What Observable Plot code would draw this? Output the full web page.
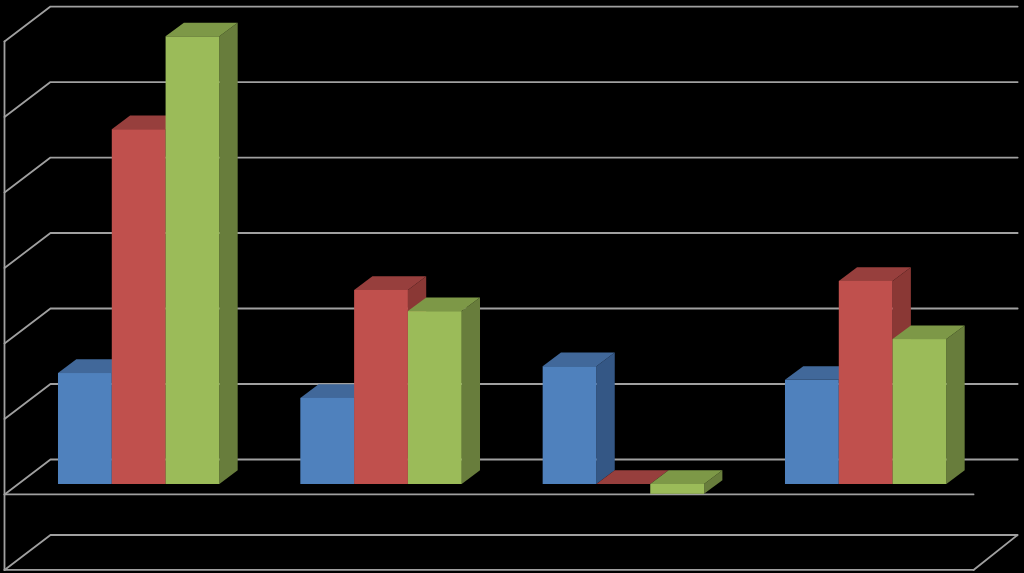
<!DOCTYPE html>
<html>
<head>
<meta charset="utf-8">
<style>html,body{margin:0;padding:0;background:#000;overflow:hidden}svg{display:block}</style>
<script src="https://cdn.jsdelivr.net/npm/d3@7"></script>
<script src="https://cdn.jsdelivr.net/npm/@observablehq/plot@0.6"></script>
</head>
<body>
<script>
// Chart values
const categories = [0, 1, 2, 3];
const seriesNames = ["Series 1", "Series 2", "Series 3"];
const series1 = [1.47, 1.14, 1.56, 1.38];
const series2 = [4.70, 2.57, 0.00, 2.69];
const series3 = [5.93, 2.29, -0.13, 1.92];
const gridLevels = [-1, 0, 1, 2, 3, 4, 5, 6];
const frontColors = ["#4f81bd", "#c0504d", "#9bbb59"];
const topColors = ["#41689a", "#973f3d", "#7d9847"];
const sideColors = ["#345785", "#8a3835", "#687d3c"];

// 3D projection constants, in data units
const barWidth = 0.222;
const depthX = 0.0755, depthY = 0.181;
const wallLeftFront = -0.2228, wallLeftBack = -0.033;
const wallRightFront = 3.776, wallRightBack = 3.958;
const wallBackY = 0.331, wallFrontY = -0.132;

const allSeries = [series1, series2, series3];

function faces(si) {
  const sideRows = [], topRows = [], frontRows = [];
  categories.forEach((c, ci) => {
    const v = allSeries[si][ci];
    const x0 = c + si * barWidth, x1 = x0 + barWidth;
    const lo = Math.min(v, 0), hi = Math.max(v, 0);
    frontRows.push({x1: x0, x2: x1, y1: lo, y2: hi});
    const tag = `${si}-${ci}`;
    if (hi - lo > 0.001) {
      sideRows.push({f: "s" + tag, x: x1, y1: lo, y2: hi, c: sideColors[si]});
      sideRows.push({f: "s" + tag, x: x1 + depthX, y1: lo + depthY, y2: hi + depthY, c: sideColors[si]});
    }
    [[x0, hi, hi], [x0 + depthX, hi, hi + depthY], [x1, hi, hi + depthY], [x1 + depthX, hi + depthY, hi + depthY]]
      .forEach(([x, y1, y2]) => topRows.push({f: "t" + tag, x, y1, y2, c: topColors[si]}));
  });
  return {rows: [...sideRows, ...topRows], frontRows};
}

const gridRows = [];
gridLevels.forEach(l => {
  const pts = [[wallLeftFront, l + wallFrontY], [wallLeftBack, l + wallBackY], [wallRightBack, l + wallBackY]];
  if (l === -1) pts.push([wallRightFront, l + wallFrontY]);
  pts.forEach(([x, y]) => gridRows.push({k: "g" + l, x, y}));
});
[-1, 0].forEach(l => {
  gridRows.push({k: "f" + l, x: wallLeftFront, y: l + wallFrontY});
  gridRows.push({k: "f" + l, x: wallRightFront, y: l + wallFrontY});
});
gridRows.push({k: "wall", x: wallLeftFront, y: -1 + wallFrontY});
gridRows.push({k: "wall", x: wallLeftFront, y: 6 + wallFrontY});

const marks = [
  Plot.line(gridRows, {x: "x", y: "y", z: "k", stroke: "#a0a0a0", strokeWidth: 1.8, curve: "linear"})
];
seriesNames.forEach((name, si) => {
  const {rows, frontRows} = faces(si);
  marks.push(Plot.area(rows, {x1: "x", y1: "y1", y2: "y2", z: "f", fill: "c", curve: "linear"}));
  marks.push(Plot.rect(frontRows, {x1: "x1", x2: "x2", y1: "y1", y2: "y2", fill: frontColors[si], inset: 0}));
});

const chart = Plot.plot({
  width: 1024,
  height: 573,
  margin: 0,
  style: {background: "#000"},
  x: {domain: [-0.2393, 3.9863], range: [0, 1024], axis: null},
  y: {domain: [-1.179, 6.411], range: [573, 0], axis: null},
  color: {type: "identity"},
  marks
});
document.body.appendChild(chart);
</script>
</body>
</html>
